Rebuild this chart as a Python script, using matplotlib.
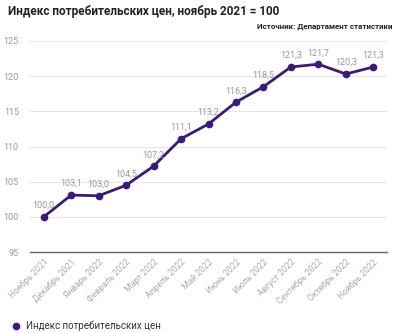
import matplotlib.pyplot as plt

plt.rcParams['font.family'] = ['Roboto', 'DejaVu Sans']

months = ["Ноябрь 2021", "Декабрь 2021", "Январь 2022", "Февраль 2022", "Март 2022",
          "Апрель 2022", "Май 2022", "Июнь 2022", "Июль 2022", "Август 2022",
          "Сентябрь 2022", "Октябрь 2022", "Ноябрь 2022"]
cpi = [100.0, 103.1, 103.0, 104.5, 107.2, 111.1, 113.2, 116.3, 118.5, 121.3, 121.7, 120.3, 121.3]
yticks = [95, 100, 105, 110, 115, 120, 125]

line_color = "#3b1a7a"

fig = plt.figure(figsize=(4, 3.33), dpi=100)
ax = fig.add_axes([0.075, 0.243, 0.8925, 0.634])

x = list(range(len(months)))
ax.plot(x, cpi, color=line_color, linewidth=2, marker="o", markersize=4.5,
        label="Индекс потребительских цен")

for xi, v in zip(x, cpi):
    ax.annotate(f"{v:.1f}".replace(".", ","), (xi, v), xytext=(0, 5),
                textcoords="offset points", ha="center", va="bottom",
                fontsize=6.5, color="#999999")

ax.set_xlim(-0.5, len(months) - 0.5)
ax.set_ylim(95, 125)
ax.set_yticks(yticks)
ax.set_xticks(x)
ax.set_xticklabels(months, rotation=45, ha="right", rotation_mode="anchor",
                   fontsize=6.2, color="#aaaaaa")
ax.tick_params(axis="y", labelsize=6.5, labelcolor="#999999", length=0, pad=8)
ax.tick_params(axis="x", length=0, pad=4)
ax.grid(axis="y", color="#e6e6e6", linewidth=0.8)
ax.set_axisbelow(True)
for s in ["top", "right", "left"]:
    ax.spines[s].set_visible(False)
ax.spines["bottom"].set_color("#666666")
ax.spines["bottom"].set_linewidth(1)

fig.text(0.02, 0.965, "Индекс потребительских цен, ноябрь 2021 = 100",
         fontsize=8.5, fontweight="bold", va="center", ha="left", color="#222222")
fig.text(0.98, 0.92, "Источник: Департамент статистики",
         fontsize=5.8, fontweight="bold", va="center", ha="right", color="#222222")

fig.legend(loc="lower left", bbox_to_anchor=(0.01, -0.02), frameon=False,
           fontsize=7, handlelength=0.6, handletextpad=0.8,
           markerscale=1.0, labelcolor="#333333")
leg = fig.legends[0]
for h in leg.legend_handles:
    h.set_linestyle("none")

fig.savefig("out.png", dpi=100)
